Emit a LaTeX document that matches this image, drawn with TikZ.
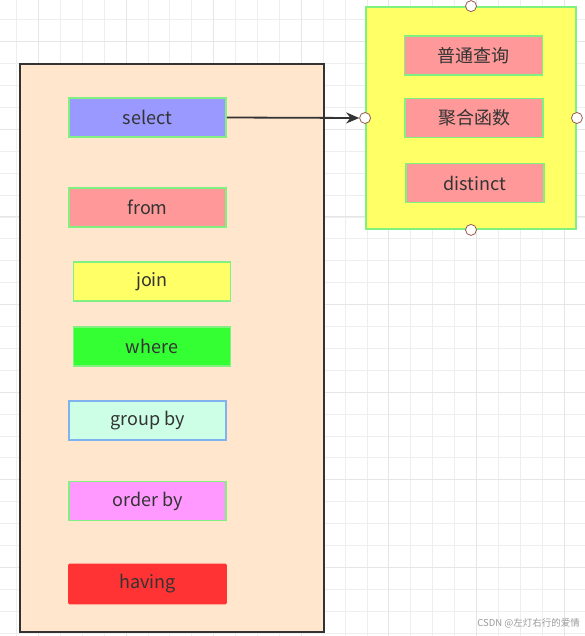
\documentclass[tikz,border=0pt]{standalone}
\usepackage{fontspec}
\setmainfont{Noto Sans CJK SC}
\usetikzlibrary{arrows.meta}
\definecolor{gridc}{HTML}{EEEEEE}
\definecolor{gridd}{HTML}{E6E6E6}
\definecolor{peach}{HTML}{FFE6CC}
\definecolor{lgreen}{HTML}{80F080}
\definecolor{lblue}{HTML}{9999FF}
\definecolor{lred}{HTML}{FF9999}
\definecolor{yel}{HTML}{FFFF66}
\definecolor{grn}{HTML}{33FF33}
\definecolor{mint}{HTML}{CCFFE6}
\definecolor{bblue}{HTML}{7EB3F0}
\definecolor{pink}{HTML}{FF99FF}
\definecolor{red2}{HTML}{FF3333}
\definecolor{txt}{HTML}{333333}
\definecolor{ring}{HTML}{9A5A4A}
\tikzset{
  kw/.style={draw=lgreen, line width=1.8pt, minimum width=157pt, minimum height=39pt, inner sep=0pt, text=txt, font=\fontsize{18}{20}\selectfont},
  sub/.style={kw, minimum width=138pt},
  handle/.style={circle, draw=ring, fill=white, line width=0.8pt, minimum size=11pt, inner sep=0pt},
}
\begin{document}
\begin{tikzpicture}[x=1pt,y=-1pt]
\useasboundingbox (0,0) rectangle (585,636);
\fill[white] (0,0) rectangle (585,636);
% grid
\foreach \k in {0,...,26} {
  \pgfmathsetmacro{\gx}{16.5+21.9*\k}
  \draw[gridc, line width=0.8pt] (\gx,0) -- (\gx,636);
}
\foreach \k in {0,...,28} {
  \pgfmathsetmacro{\gy}{19.8+21.9*\k}
  \draw[gridc, line width=0.8pt] (0,\gy) -- (585,\gy);
}
\foreach \k in {1,5,...,25} {
  \pgfmathsetmacro{\gx}{16.5+21.9*\k}
  \draw[gridd, line width=0.9pt] (\gx,0) -- (\gx,636);
}
\foreach \k in {1,5,...,27} {
  \pgfmathsetmacro{\gy}{19.8+21.9*\k}
  \draw[gridd, line width=0.9pt] (0,\gy) -- (585,\gy);
}
% main container
\node[draw=txt, fill=peach, line width=1.8pt, minimum width=304pt, minimum height=568pt, inner sep=0pt] (main) at (172,348) {};
\node[kw, fill=lblue] (select) at (147.5,117.5) {select};
\node[kw, fill=lred] (from) at (147.5,207.5) {from};
\node[kw, fill=yel] (join) at (152,281.5) {join};
\node[kw, fill=grn, draw=lgreen] (where) at (152,346.5) {where};
\node[kw, fill=mint, draw=bblue] (group) at (147.5,420.5) {group by};
\node[kw, fill=pink] (order) at (147.5,501) {order by};
\node[kw, fill=red2, draw=red2, rounded corners=1pt] (having) at (147.5,584) {having};
% right container
\node[draw=lgreen, fill=yel, line width=1.8pt, minimum width=210pt, minimum height=222pt, inner sep=0pt] (sel) at (471,118) {};
\node[sub, fill=lred] (q1) at (473.5,55.5) {普通查询};
\node[sub, fill=lred] (q2) at (474,118) {聚合函数};
\node[sub, fill=lred] (q3) at (475,183) {distinct};
% handles
\node[handle] (ht) at (sel.north) {};
\node[handle] (hb) at (sel.south) {};
\node[handle] (hl) at (sel.west) {};
\node[handle] (hr) at (sel.east) {};
% arrow
\draw[txt, line width=1.8pt, -{Stealth[length=13pt,width=11pt]}] (select.east) -- (hl.west);
% watermark
\node[anchor=east, text=black!40, font=\fontsize{9.5}{11}\selectfont, inner sep=0pt] (wm) at (580,623) {CSDN @左灯右行的爱情};
\end{tikzpicture}
\end{document}
